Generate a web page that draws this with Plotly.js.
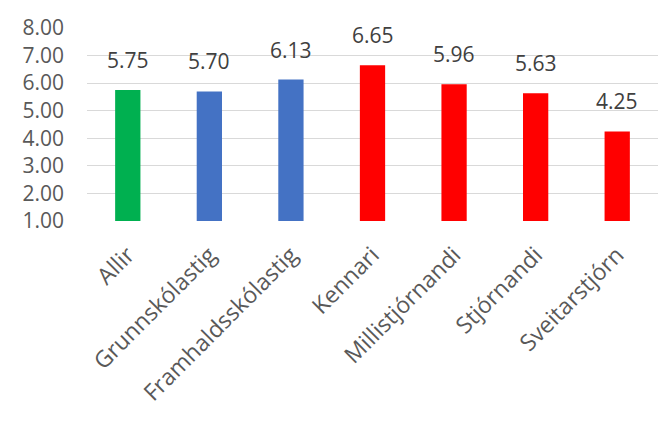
<!DOCTYPE html>
<html><head><meta charset="utf-8">
<script src="https://cdn.plot.ly/plotly-3.0.1.min.js"></script>
<style>body{margin:0;background:#fff}#c{width:661px;height:423px}</style>
</head><body><div id="c"></div>
<script>
const categories = ["Allir","Grunnskólastig","Framhaldsskólastig","Kennari","Millistjórnandi","Stjórnandi","Sveitarstjórn"];
const values = [5.75, 5.70, 6.13, 6.65, 5.96, 5.63, 4.25];
const barColors = ["#00b050","#4472c4","#4472c4","#ff0000","#ff0000","#ff0000","#ff0000"];
const yTickVals = [1,2,3,4,5,6,7,8];
const yTickText = yTickVals.map(v => v.toFixed(2));

const font = "'Open Sans', sans-serif";
const trace = {
  type: 'bar', x: categories, y: values,
  marker: {color: barColors},
  hoverinfo: 'none'
};
const annotations = categories.map((c, i) => ({
  x: c, y: values[i], xref: 'x', yref: 'y',
  text: values[i].toFixed(2), showarrow: false,
  yanchor: 'bottom', yshift: 14,
  font: {family: font, size: 21, color: '#404040'}
}));
const layout = {
  width: 661, height: 423,
  margin: {l: 87, r: 3, t: 28, b: 202},
  paper_bgcolor: '#fff', plot_bgcolor: '#fff',
  bargap: 0.69,
  showlegend: false,
  xaxis: {
    tickangle: -45, showgrid: false, zeroline: false, showline: false,
    ticks: '', ticklabelstandoff: 15,
    tickfont: {family: font, size: 23, color: '#595959'}
  },
  yaxis: {
    range: [1, 8], tickvals: yTickVals, ticktext: yTickText,
    showgrid: true, gridcolor: '#d9d9d9', gridwidth: 1,
    zeroline: false, showline: false, ticks: '',
    ticklabelstandoff: 22,
    tickfont: {family: font, size: 21, color: '#595959'}
  },
  annotations: annotations
};
Plotly.newPlot('c', [trace], layout, {displayModeBar: false, staticPlot: true});
</script></body></html>
